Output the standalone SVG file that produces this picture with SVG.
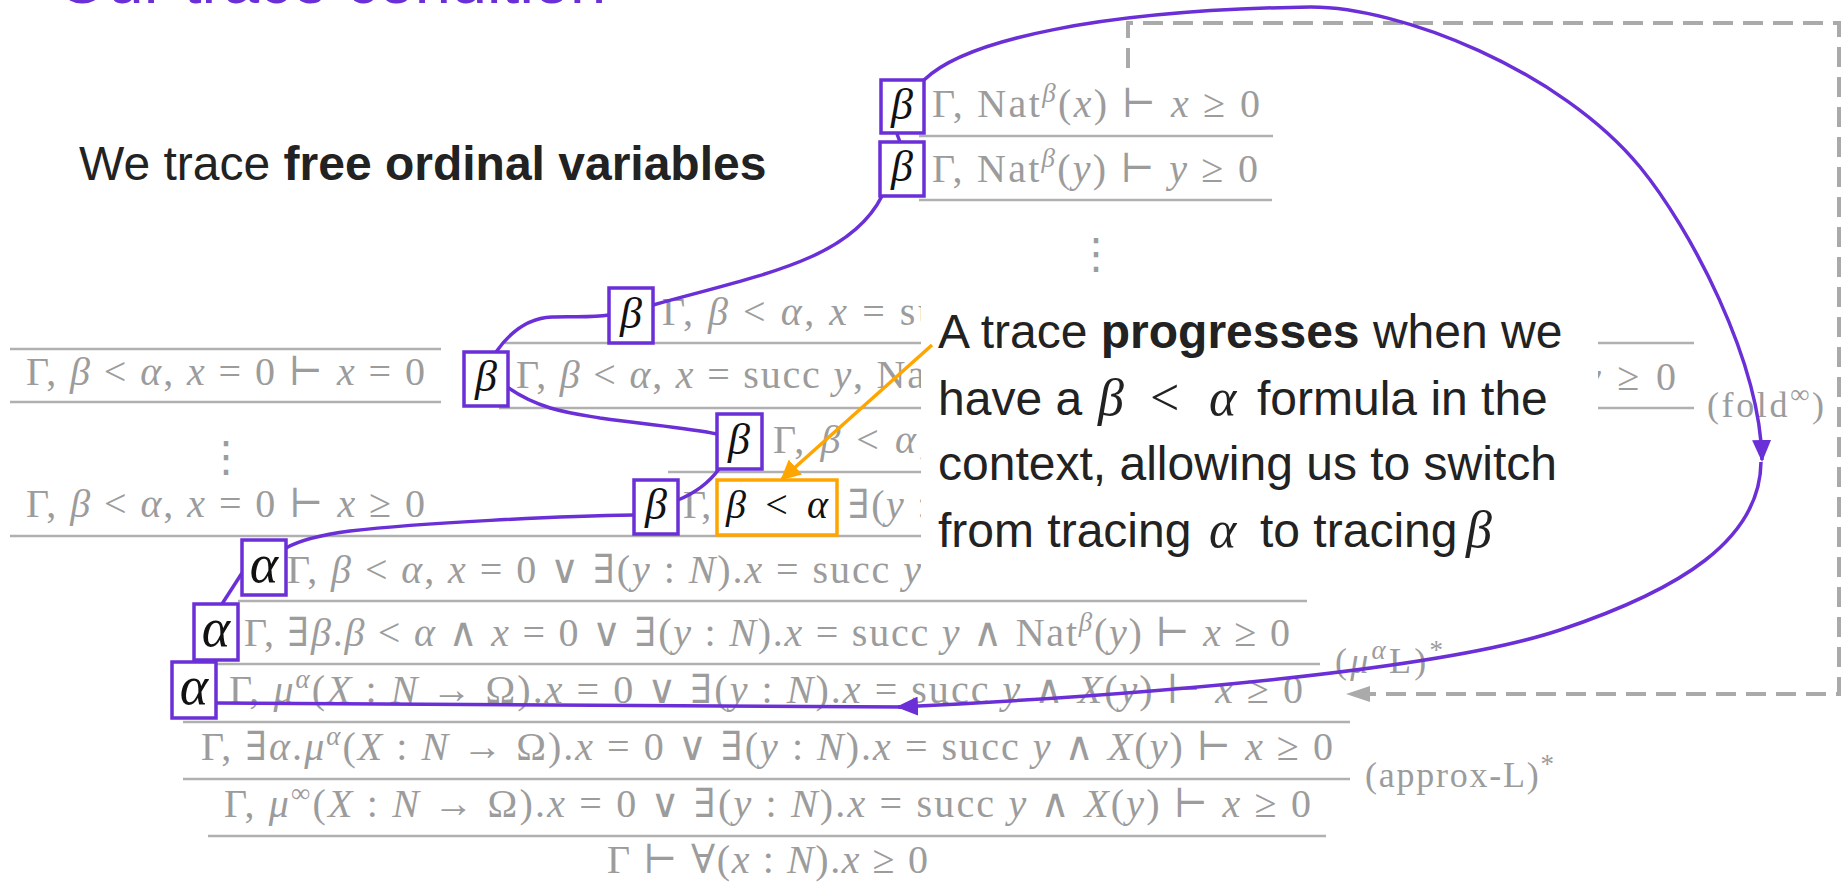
<svg xmlns="http://www.w3.org/2000/svg" width="1841" height="883" viewBox="0 0 1841 883">
<style>
.title{font-family:"Liberation Sans",Arial,sans-serif;font-size:65px;fill:#6a2fd6}
.sans{font-family:"Liberation Sans",Arial,sans-serif;font-size:48px;fill:#222}
.b{font-weight:bold}
.m{font-family:"Liberation Serif","DejaVu Serif",serif;font-size:40px;fill:#9c9c9c}
.lbl{font-family:"Liberation Serif","DejaVu Serif",serif;font-size:36px;fill:#9c9c9c}
.cm{font-family:"Liberation Serif","DejaVu Serif",serif;font-size:52px;fill:#222;font-style:italic}
.cmu{font-style:normal}
.i{font-style:italic}
.s{font-size:27px}
.k{fill:#111}
.rule{stroke:#b0b0b0;stroke-width:2.5;fill:none}
.tr{fill:#fff;stroke:#6a2fd6;stroke-width:3.5}
.bg{font-family:"Liberation Serif","DejaVu Serif",serif;font-size:44px;font-style:italic;fill:#111;text-anchor:middle}
.ag{font-family:"Liberation Serif","DejaVu Serif",serif;font-size:54px;font-style:italic;fill:#111;text-anchor:middle}
.pc{fill:none;stroke:#6a2fd6;stroke-width:3.5}
.dots{font-family:"DejaVu Sans",sans-serif;font-size:42px;fill:#9c9c9c;text-anchor:middle}
</style>
<defs>
<marker id="ap" markerUnits="userSpaceOnUse" viewBox="0 0 22 19" markerWidth="22" markerHeight="19" refX="20" refY="9.5" orient="auto"><path d="M0,0 L22,9.5 L0,19 z" fill="#6a2fd6"/></marker>
<marker id="ao" markerUnits="userSpaceOnUse" viewBox="0 0 20 20" markerWidth="20" markerHeight="20" refX="18" refY="10" orient="auto"><path d="M0,0 L20,10 L0,20 z" fill="#ffa500"/></marker>
<marker id="ag" markerUnits="userSpaceOnUse" viewBox="0 0 24 16" markerWidth="24" markerHeight="16" refX="24" refY="8" orient="auto"><path d="M0,0 L24,8 L0,16 z" fill="#aaaaaa"/></marker>
</defs>
<rect width="1841" height="883" fill="#fff"/>

<g id="title"><text class="title" x="57" y="3">Our trace condition</text></g>
<g id="heading"><text class="sans" x="79" y="180">We trace <tspan class="b">free ordinal variables</tspan></text></g>

<g id="proof">
<g id="rules">
<line class="rule" x1="919" y1="136" x2="1273" y2="136"/>
<line class="rule" x1="919" y1="200" x2="1272" y2="200"/>
<line class="rule" x1="10" y1="349" x2="441" y2="349"/>
<line class="rule" x1="10" y1="402" x2="441" y2="402"/>
<line class="rule" x1="505" y1="343" x2="1694" y2="343"/>
<line class="rule" x1="499" y1="408" x2="1694" y2="408"/>
<line class="rule" x1="668" y1="472" x2="925" y2="472"/>
<line class="rule" x1="10" y1="536" x2="925" y2="536"/>
<line class="rule" x1="238" y1="601" x2="1307" y2="601"/>
<line class="rule" x1="200" y1="664" x2="1320" y2="664"/>
<line class="rule" x1="183" y1="722" x2="1350" y2="722"/>
<line class="rule" x1="183" y1="779" x2="1350" y2="779"/>
<line class="rule" x1="208" y1="836" x2="1326" y2="836"/>
</g>
<g id="sequents">
<text class="m" x="932" y="117" textLength="328" lengthAdjust="spacing">Γ, Nat<tspan class="s i" dy="-15">β</tspan><tspan dy="15">(</tspan><tspan class="i">x</tspan>) ⊢ <tspan class="i">x</tspan> ≥ 0</text>
<text class="m" x="932" y="182" textLength="326" lengthAdjust="spacing">Γ, Nat<tspan class="s i" dy="-15">β</tspan><tspan dy="15">(</tspan><tspan class="i">y</tspan>) ⊢ <tspan class="i">y</tspan> ≥ 0</text>
<text class="dots" x="1096" y="268">⋮</text>
<text class="m" x="26" y="385" textLength="399" lengthAdjust="spacing">Γ, <tspan class="i">β</tspan> &lt; <tspan class="i">α</tspan>, <tspan class="i">x</tspan> = 0 ⊢ <tspan class="i">x</tspan> = 0</text>
<text class="dots" x="226" y="471">⋮</text>
<text class="m" x="26" y="517" textLength="399" lengthAdjust="spacing">Γ, <tspan class="i">β</tspan> &lt; <tspan class="i">α</tspan>, <tspan class="i">x</tspan> = 0 ⊢ <tspan class="i">x</tspan> ≥ 0</text>
<text class="m" x="662" y="325" textLength="276" lengthAdjust="spacing">Γ, <tspan class="i">β</tspan> &lt; <tspan class="i">α</tspan>, <tspan class="i">x</tspan> = su</text>
<text class="m" x="516" y="388" textLength="422" lengthAdjust="spacing">Γ, <tspan class="i">β</tspan> &lt; <tspan class="i">α</tspan>, <tspan class="i">x</tspan> = succ <tspan class="i">y</tspan>, Nat</text>
<text class="m" x="1583" y="390" textLength="93" lengthAdjust="spacing"><tspan class="i">y</tspan> ≥ 0</text>
<text class="m" x="773" y="453" textLength="156" lengthAdjust="spacing">Γ, <tspan class="i">β</tspan> &lt; <tspan class="i">α</tspan>,</text>
<text class="m" x="683" y="518">Γ,</text>
<text class="m i k" x="726" y="518" textLength="102" lengthAdjust="spacing">β <tspan class="cmu">&lt;</tspan> α</text>
<text class="m" x="848" y="518" textLength="80" lengthAdjust="spacing">∃(<tspan class="i">y</tspan> :</text>
<text class="m" x="287" y="583" textLength="634" lengthAdjust="spacing">Γ, <tspan class="i">β</tspan> &lt; <tspan class="i">α</tspan>, <tspan class="i">x</tspan> = 0 ∨ ∃(<tspan class="i">y</tspan> : <tspan class="i">N</tspan>).<tspan class="i">x</tspan> = succ <tspan class="i">y</tspan></text>
<text class="m" x="244" y="646" textLength="1046" lengthAdjust="spacing">Γ, ∃<tspan class="i">β</tspan>.<tspan class="i">β</tspan> &lt; <tspan class="i">α</tspan> ∧ <tspan class="i">x</tspan> = 0 ∨ ∃(<tspan class="i">y</tspan> : <tspan class="i">N</tspan>).<tspan class="i">x</tspan> = succ <tspan class="i">y</tspan> ∧ Nat<tspan class="s i" dy="-15">β</tspan><tspan dy="15">(</tspan><tspan class="i">y</tspan>) ⊢ <tspan class="i">x</tspan> ≥ 0</text>
<text class="m" x="229" y="703" textLength="1074" lengthAdjust="spacing">Γ, <tspan class="i">μ</tspan><tspan class="s i" dy="-15">α</tspan><tspan dy="15">(</tspan><tspan class="i">X</tspan> : <tspan class="i">N</tspan> → Ω).<tspan class="i">x</tspan> = 0 ∨ ∃(<tspan class="i">y</tspan> : <tspan class="i">N</tspan>).<tspan class="i">x</tspan> = succ <tspan class="i">y</tspan> ∧ <tspan class="i">X</tspan>(<tspan class="i">y</tspan>) ⊢ <tspan class="i">x</tspan> ≥ 0</text>
<text class="m" x="201" y="760" textLength="1132" lengthAdjust="spacing">Γ, ∃<tspan class="i">α</tspan>.<tspan class="i">μ</tspan><tspan class="s i" dy="-15">α</tspan><tspan dy="15">(</tspan><tspan class="i">X</tspan> : <tspan class="i">N</tspan> → Ω).<tspan class="i">x</tspan> = 0 ∨ ∃(<tspan class="i">y</tspan> : <tspan class="i">N</tspan>).<tspan class="i">x</tspan> = succ <tspan class="i">y</tspan> ∧ <tspan class="i">X</tspan>(<tspan class="i">y</tspan>) ⊢ <tspan class="i">x</tspan> ≥ 0</text>
<text class="m" x="224" y="817" textLength="1087" lengthAdjust="spacing">Γ, <tspan class="i">μ</tspan><tspan class="s" dy="-15">∞</tspan><tspan dy="15">(</tspan><tspan class="i">X</tspan> : <tspan class="i">N</tspan> → Ω).<tspan class="i">x</tspan> = 0 ∨ ∃(<tspan class="i">y</tspan> : <tspan class="i">N</tspan>).<tspan class="i">x</tspan> = succ <tspan class="i">y</tspan> ∧ <tspan class="i">X</tspan>(<tspan class="i">y</tspan>) ⊢ <tspan class="i">x</tspan> ≥ 0</text>
<text class="m" x="607" y="873" textLength="321" lengthAdjust="spacing">Γ ⊢ ∀(<tspan class="i">x</tspan> : <tspan class="i">N</tspan>).<tspan class="i">x</tspan> ≥ 0</text>
</g>
<g id="rule-labels">
<text class="lbl" x="1707" y="417" textLength="117" lengthAdjust="spacing">(fold<tspan class="s" dy="-14">∞</tspan><tspan dy="14">)</tspan></text>
<text class="lbl" x="1335" y="673" textLength="108" lengthAdjust="spacing">(<tspan class="i">μ</tspan><tspan class="s i" dy="-14">α</tspan><tspan dy="14">L)</tspan><tspan class="s" dy="-14">*</tspan></text>
<text class="lbl" x="1365" y="787" textLength="189" lengthAdjust="spacing">(approx-L)<tspan class="s" dy="-14">*</tspan></text>
</g>
</g>

<g id="callout">
<rect x="921" y="280" width="677" height="305" fill="#fff"/>
<text class="sans" x="938" y="348">A trace <tspan class="b">progresses</tspan> when we</text>
<text class="sans" y="415"><tspan x="938">have a</tspan><tspan class="cm" x="1098">β</tspan><tspan class="cm cmu" x="1150">&lt;</tspan><tspan class="cm" x="1209">α</tspan><tspan x="1257">formula in the</tspan></text>
<text class="sans" x="938" y="480">context, allowing us to switch</text>
<text class="sans" y="547"><tspan x="938">from tracing</tspan><tspan class="cm" x="1209">α</tspan><tspan x="1260">to tracing</tspan><tspan class="cm" x="1466">β</tspan></text>
</g>

<g id="connectors">
<path d="M1128 68 L1128 23 L1839 23 L1839 694 L1346 694" fill="none" stroke="#aaaaaa" stroke-width="4" stroke-dasharray="20 10" marker-end="url(#ag)"/>
<path class="pc" d="M897 134 L900 142"/>
<path class="pc" d="M882 196 C850 260 760 275 653 305"/>
<path class="pc" d="M609 315 C590 318 570 316 552 317 C525 318 508 335 496 352"/>
<path class="pc" d="M507 387 C540 410 570 413 600 418 C650 425 690 428 717 434"/>
<path class="pc" d="M719 469 C708 484 695 493 678 500"/>
<path class="pc" d="M634 515 C560 516 420 523 350 531 C320 535 300 540 286 548"/>
<path class="pc" d="M242 573 L222 604"/>
<path class="pc" d="M924 80 C965 40 1100 10 1311 7 C1400 7 1560 70 1640 167 C1690 228 1760 360 1762 460" marker-end="url(#ap)"/>
<path class="pc" d="M1761 462 C1760 540 1680 590 1560 630 C1440 670 1150 695 898 707" marker-end="url(#ap)"/>
<path class="pc" d="M905 707 L216 703"/>
<path d="M932 345 L782 479" fill="none" stroke="#ffa500" stroke-width="3.5" marker-end="url(#ao)"/>
</g>

<g id="trace-nodes">
<g id="b1"><rect class="tr" x="881" y="80" width="43" height="53"/><text class="bg" x="902" y="119">β</text></g>
<g id="b2"><rect class="tr" x="880" y="142" width="44" height="54"/><text class="bg" x="902" y="181">β</text></g>
<g id="b3"><rect class="tr" x="609" y="288" width="44" height="55"/><text class="bg" x="631" y="328">β</text></g>
<g id="b4"><rect class="tr" x="464" y="352" width="44" height="54"/><text class="bg" x="486" y="391">β</text></g>
<g id="b5"><rect class="tr" x="717" y="414" width="45" height="55"/><text class="bg" x="739" y="454">β</text></g>
<g id="b6"><rect class="tr" x="634" y="480" width="44" height="54"/><text class="bg" x="656" y="519">β</text></g>
<g id="lt"><rect x="717" y="480" width="120" height="55" fill="none" stroke="#ffa500" stroke-width="3.5"/></g>
<g id="a1"><rect class="tr" x="242" y="540" width="44" height="55"/><text class="ag" x="264" y="582">α</text></g>
<g id="a2"><rect class="tr" x="194" y="604" width="44" height="56"/><text class="ag" x="216" y="646">α</text></g>
<g id="a3"><rect class="tr" x="172" y="662" width="44" height="56"/><text class="ag" x="194" y="704">α</text></g>
</g>
</svg>
